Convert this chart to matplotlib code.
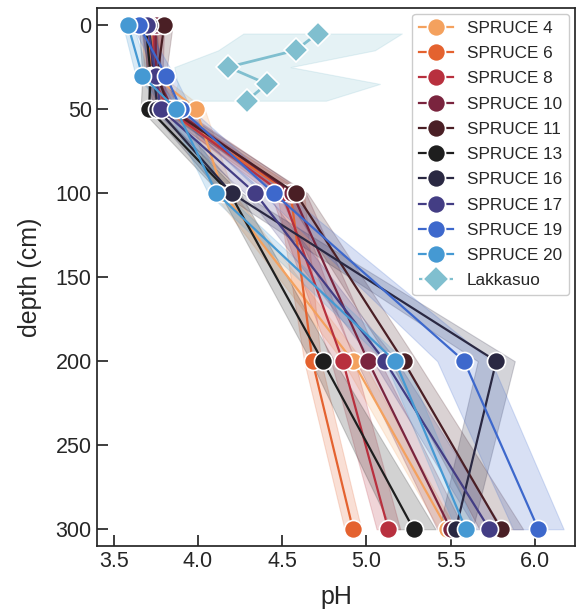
import numpy as np
import matplotlib
matplotlib.use("Agg")
import matplotlib.pyplot as plt
from matplotlib.lines import Line2D

plt.rcParams['font.family'] = ['Liberation Sans', 'DejaVu Sans']

# depth levels of the SPRUCE cores (cm)
depths = [0, 30, 50, 100, 200, 300]

plots = ['SPRUCE 4', 'SPRUCE 6', 'SPRUCE 8', 'SPRUCE 10', 'SPRUCE 11',
         'SPRUCE 13', 'SPRUCE 16', 'SPRUCE 17', 'SPRUCE 19', 'SPRUCE 20']

# mean pH per depth
ph_s4 = [3.72, 3.74, 3.99, 4.15, 4.92, 5.48]
ph_s6 = [3.70, 3.72, 3.80, 4.55, 4.68, 4.92]
ph_s8 = [3.74, 3.73, 3.82, 4.50, 4.86, 5.13]
ph_s10 = [3.75, 3.75, 3.85, 4.56, 5.01, 5.50]
ph_s11 = [3.80, 3.76, 3.83, 4.58, 5.22, 5.80]
ph_s13 = [3.69, 3.72, 3.71, 4.19, 4.74, 5.28]
ph_s16 = [3.71, 3.74, 3.76, 4.20, 5.77, 5.53]
ph_s17 = [3.70, 3.75, 3.78, 4.34, 5.11, 5.73]
ph_s19 = [3.65, 3.81, 3.90, 4.45, 5.58, 6.02]
ph_s20 = [3.585, 3.67, 3.87, 4.11, 5.17, 5.59]

# half width of the confidence band
ci_s4 = [0.04, 0.04, 0.05, 0.06, 0.06, 0.05]
ci_s6 = [0.03, 0.04, 0.05, 0.08, 0.05, 0.05]
ci_s8 = [0.04, 0.04, 0.05, 0.07, 0.07, 0.07]
ci_s10 = [0.05, 0.04, 0.05, 0.08, 0.07, 0.08]
ci_s11 = [0.05, 0.05, 0.05, 0.07, 0.08, 0.13]
ci_s13 = [0.04, 0.05, 0.05, 0.06, 0.07, 0.13]
ci_s16 = [0.04, 0.04, 0.05, 0.06, 0.11, 0.10]
ci_s17 = [0.04, 0.04, 0.05, 0.06, 0.07, 0.08]
ci_s19 = [0.04, 0.05, 0.06, 0.07, 0.16, 0.15]
ci_s20 = [0.03, 0.04, 0.05, 0.05, 0.06, 0.06]

# Lakkasuo profile
lak_depth = [5, 15, 25, 35, 45]
lak_ph = [4.71, 4.58, 4.18, 4.41, 4.29]
lak_lo = [4.27, 4.12, 3.86, 3.88, 3.85]
lak_hi = [5.21, 5.05, 4.55, 5.08, 4.76]

ph_all = [ph_s4, ph_s6, ph_s8, ph_s10, ph_s11, ph_s13, ph_s16, ph_s17, ph_s19, ph_s20]
ci_all = [ci_s4, ci_s6, ci_s8, ci_s10, ci_s11, ci_s13, ci_s16, ci_s17, ci_s19, ci_s20]

colors = ['#f4a15e', '#e4622f', '#b8303e', '#7a243e', '#4a1f25',
          '#1e1e1e', '#2a2842', '#433d84', '#3d68cc', '#4599d3']
lak_color = '#80bfcf'

fig = plt.figure(figsize=(5.79, 6.12), dpi=100)
ax = fig.add_axes([0.168, 0.108, 0.825, 0.879])

d = np.array(depths)
handles = []
for name, ph, ci, c in zip(plots, ph_all, ci_all, colors):
    ph = np.array(ph)
    ci = np.array(ci)
    ax.fill_betweenx(d, ph - ci, ph + ci, color=c, alpha=0.2, lw=0.8)
    h, = ax.plot(ph, d, '-o', color=c, lw=1.6, ms=13, mec='white', mew=1.2,
                 label=name)
    handles.append(h)

ax.fill_betweenx(lak_depth, lak_lo, lak_hi, color=lak_color, alpha=0.2, lw=0.8)
ax.plot(lak_ph, lak_depth, '-D', color=lak_color, lw=2, ms=12,
        mec='white', mew=1.2)
handles.append(Line2D([], [], color=lak_color, lw=1.6, ls='--', dashes=(3, 1.5),
                      marker='D', ms=13, mec='white', mew=1.2, label='Lakkasuo'))

ax.set_xlim(3.403, 6.237)
ax.set_ylim(309.9, -10.2)
ax.set_xticks([3.5, 4.0, 4.5, 5.0, 5.5, 6.0])
ax.set_yticks([0, 50, 100, 150, 200, 250, 300])
ax.tick_params(labelsize=15.5, direction='in', length=8, width=1.25, pad=4,
               color='#262626', labelcolor='#262626')
for s in ax.spines.values():
    s.set_linewidth(1.25)
    s.set_color('#262626')
ax.set_xlabel('pH', fontsize=18, color='#262626', labelpad=9)
ax.set_ylabel('depth (cm)', fontsize=18, color='#262626', labelpad=10)

leg = ax.legend(handles=handles, loc='upper right', fontsize=12.3,
                labelspacing=0.6, borderaxespad=0.35, handletextpad=0.8,
                framealpha=1, edgecolor='#cccccc')
for t in leg.get_texts():
    t.set_color('#262626')

fig.savefig('out.png', dpi=100)
